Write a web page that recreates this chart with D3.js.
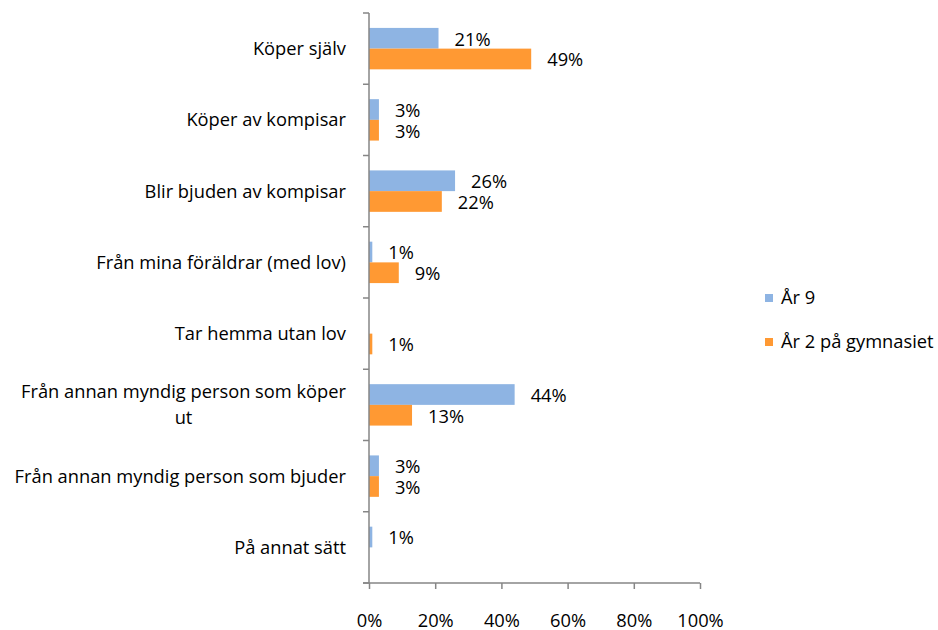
<!DOCTYPE html>
<html lang="sv">
<head>
<meta charset="utf-8">
<title>Varifrån får du alkohol</title>
<script src="https://d3js.org/d3.v7.min.js"></script>
<style>
  body { margin: 0; background: #fff; }
  svg text { font-family: "Open Sans", "Liberation Sans", sans-serif; fill: #000; }
</style>
</head>
<body>
<div id="chart"></div>
<script>
// categories, top to bottom
var categories = [
  "Köper själv",
  "Köper av kompisar",
  "Blir bjuden av kompisar",
  "Från mina föräldrar (med lov)",
  "Tar hemma utan lov",
  "Från annan myndig person som köper ut",
  "Från annan myndig person som bjuder",
  "På annat sätt"
];
var seriesNames = ["År 9", "År 2 på gymnasiet"];
var ar9 = [21, 3, 26, 1, null, 44, 3, 1];
var gymn = [49, 3, 22, 9, 1, 13, 3, null];
var xTicks = [0, 20, 40, 60, 80, 100];
var colors = ["#8EB4E3", "#FF9933"];

var width = 938, height = 630;
var mLeft = 369, mRight = 700, mTop = 13, mBottom = 583;
var fs = "18.3px";

var svg = d3.select("#chart").append("svg")
  .attr("width", width).attr("height", height);

var x = d3.scaleLinear().domain([0, 100]).range([mLeft, mRight]);
var y = d3.scaleBand().domain(categories).range([mTop, mBottom]);
var sub = d3.scaleBand().domain([0, 1]).range([0, y.bandwidth()]).paddingOuter(0.72);

// bars
var series = [ar9, gymn];
series.forEach(function(vals, s) {
  var g = svg.append("g");
  categories.forEach(function(c, i) {
    var v = vals[i];
    if (v == null) return;
    g.append("rect")
      .attr("x", x(0))
      .attr("y", y(c) + sub(s))
      .attr("width", x(v) - x(0))
      .attr("height", sub.bandwidth())
      .attr("fill", colors[s]);
    g.append("text")
      .attr("x", x(v) + 16)
      .attr("y", y(c) + sub(s) + sub.bandwidth() / 2 + 1)
      .attr("dy", "0.35em")
      .style("font-size", fs)
      .text(v + "%");
  });
});

// y axis
svg.append("line")
  .attr("x1", mLeft).attr("x2", mLeft).attr("y1", mTop).attr("y2", mBottom)
  .attr("stroke", "#868686").attr("stroke-width", 1.5);
d3.range(categories.length + 1).forEach(function(i) {
  var yy = mTop + i * y.step();
  svg.append("line")
    .attr("x1", mLeft - 6).attr("x2", mLeft).attr("y1", yy).attr("y2", yy)
    .attr("stroke", "#868686").attr("stroke-width", 1.5);
});

// category labels (wrap the long one)
categories.forEach(function(c) {
  var cy = y(c) + y.bandwidth() / 2;
  var t = svg.append("text").style("font-size", fs);
  if (c.length > 36) {
    var first = "Från annan myndig person som köper";
    var rest = c.slice(first.length + 1);
    var l1 = t.append("tspan").attr("x", mLeft - 23).attr("y", cy - 13)
      .attr("dy", "0.35em").attr("text-anchor", "end").text(first);
    var w = l1.node().getComputedTextLength();
    t.append("tspan").attr("x", mLeft - 23 - w / 2).attr("y", cy + 13)
      .attr("dy", "0.35em").attr("text-anchor", "middle").text(rest);
  } else {
    t.attr("x", mLeft - 23).attr("y", cy).attr("dy", "0.35em")
      .attr("text-anchor", "end").text(c);
  }
});

// x axis
var xAxis = svg.append("g")
  .attr("transform", "translate(0," + mBottom + ")")
  .call(d3.axisBottom(x).tickValues(xTicks).tickSize(6).tickPadding(25)
    .tickFormat(function(d) { return d + "%"; }));
xAxis.select(".domain").attr("stroke", "#868686").attr("stroke-width", 1.5)
  .attr("d", "M" + (mLeft - 6) + ",0H" + mRight);
xAxis.selectAll(".tick line").attr("stroke", "#868686").attr("stroke-width", 1.5);
xAxis.selectAll(".tick text").style("font-size", fs)
  .style("font-family", "'Open Sans', 'Liberation Sans', sans-serif").attr("fill", "#000");

// legend
var legend = svg.append("g");
seriesNames.forEach(function(n, i) {
  var ly = 298 + i * 44;
  legend.append("rect").attr("x", 765).attr("y", ly - 4).attr("width", 8).attr("height", 8)
    .attr("fill", colors[i]);
  legend.append("text").attr("x", 781).attr("y", ly).attr("dy", "0.35em")
    .style("font-size", fs).text(n);
});
</script>
</body>
</html>
